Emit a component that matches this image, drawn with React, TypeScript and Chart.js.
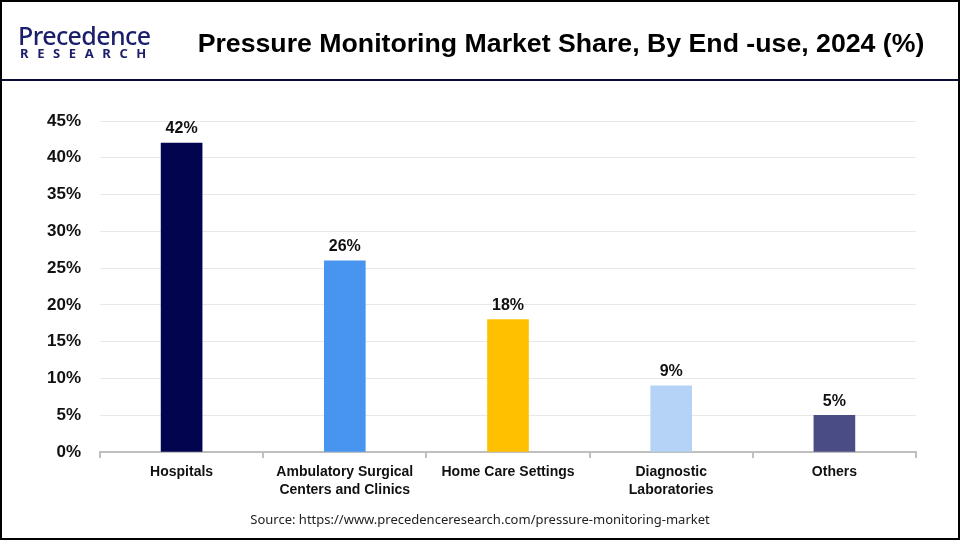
import React, { useEffect, useRef } from "react";
import { Chart, registerables } from "chart.js";

Chart.register(...registerables);

const categories: (string | string[])[] = [
  "Hospitals",
  ["Ambulatory Surgical", "Centers and Clinics"],
  "Home Care Settings",
  ["Diagnostic", "Laboratories"],
  "Others",
];
const shares = [42, 26, 18, 9, 5];
const barColors = ["#020450", "#4895EF", "#FFC000", "#B4D3F7", "#4A4D85"];
const yTicks = [0, 5, 10, 15, 20, 25, 30, 35, 40, 45];

const FONT = "'Liberation Sans', Arial, sans-serif";

const valueLabels = {
  id: "valueLabels",
  afterDatasetsDraw(chart: any) {
    const ctx = chart.ctx;
    const meta = chart.getDatasetMeta(0);
    ctx.save();
    ctx.font = `bold 16px ${FONT}`;
    ctx.fillStyle = "#111111";
    ctx.textAlign = "center";
    ctx.textBaseline = "bottom";
    meta.data.forEach((bar: any, i: number) => {
      ctx.fillText(`${shares[i]}%`, bar.x, bar.y - 6);
    });
    ctx.restore();
  },
};

export default function App() {
  const ref = useRef<HTMLCanvasElement | null>(null);

  useEffect(() => {
    if (!ref.current) return;
    const chart = new Chart(ref.current, {
      type: "bar",
      data: {
        labels: categories as any,
        datasets: [
          {
            data: shares,
            backgroundColor: barColors,
            barThickness: 41,
          },
        ],
      },
      options: {
        animation: false,
        responsive: false,
        maintainAspectRatio: false,
        layout: { padding: { left: 30, right: 44, top: 121, bottom: 0 } },
        plugins: {
          legend: { display: false },
          tooltip: { enabled: false },
          title: { display: false },
        },
        scales: {
          x: {
            afterFit: (s: any) => {
              s.height = 88;
            },
            grid: {
              display: true,
              drawOnChartArea: false,
              drawTicks: true,
              tickLength: 6,
              color: "#BFBFBF",
              lineWidth: 2,
              offset: true,
            },
            border: { display: true, color: "#BFBFBF", width: 2 },
            ticks: {
              color: "#111111",
              font: { family: FONT, size: 14, weight: "bold", lineHeight: 1.3 },
              padding: 5,
              maxRotation: 0,
              autoSkip: false,
            },
          },
          y: {
            min: 0,
            max: 45,
            afterFit: (s: any) => {
              s.width = 70;
            },
            afterBuildTicks: (s: any) => {
              s.ticks = yTicks.map((v) => ({ value: v }));
            },
            grid: {
              color: "#E8E8E8",
              lineWidth: 1,
              drawTicks: false,
            },
            border: { display: false },
            ticks: {
              color: "#111111",
              font: { family: FONT, size: 17, weight: "bold" },
              padding: 19,
              callback: (v: any) => `${v}%`,
            },
          },
        },
      },
      plugins: [valueLabels],
    });
    return () => chart.destroy();
  }, []);

  return (
    <div
      style={{
        position: "absolute",
        left: 0,
        top: 0,
        width: 960,
        height: 540,
        background: "#ffffff",
        overflow: "hidden",
        fontFamily: FONT,
      }}
    >
      <canvas
        ref={ref}
        width={960}
        height={540}
        style={{ position: "absolute", left: 0, top: 0, width: 960, height: 540 }}
      />
      {/* Logo */}
      <div
        style={{
          position: "absolute",
          left: 18,
          top: 20,
          color: "#1B1F6B",
          fontFamily: "'Noto Sans', sans-serif",
          fontSize: 25,
          lineHeight: "30px",
          letterSpacing: -0.6,
          fontWeight: 500,
        }}
      >
        Precedence
      </div>
      <div
        style={{
          position: "absolute",
          left: 20,
          top: 46,
          color: "#1B1F6B",
          fontFamily: "'Noto Sans', sans-serif",
          fontSize: 13,
          lineHeight: "14px",
          letterSpacing: 8.6,
          fontWeight: 700,
        }}
      >
        RESEARCH
      </div>
      {/* Title */}
      <div
        style={{
          position: "absolute",
          left: 161,
          width: 800,
          top: 27,
          textAlign: "center",
          fontFamily: FONT,
          fontWeight: 700,
          fontSize: 26.7,
          lineHeight: "32px",
          color: "#000000",
        }}
      >
        Pressure Monitoring Market Share, By End -use, 2024 (%)
      </div>
      {/* Header separator */}
      <div
        style={{
          position: "absolute",
          left: 0,
          top: 79,
          width: 960,
          height: 2,
          background: "#0B0B3B",
        }}
      />
      {/* Source */}
      <div
        style={{
          position: "absolute",
          left: 0,
          width: 960,
          top: 510,
          textAlign: "center",
          fontFamily: "'Noto Sans', sans-serif",
          fontSize: 13,
          lineHeight: "18px",
          color: "#222222",
        }}
      >
        Source: https://www.precedenceresearch.com/pressure-monitoring-market
      </div>
      {/* Outer border */}
      <div
        style={{
          position: "absolute",
          left: 0,
          top: 0,
          width: 960,
          height: 540,
          boxSizing: "border-box",
          border: "2px solid #000000",
          pointerEvents: "none",
        }}
      />
    </div>
  );
}
